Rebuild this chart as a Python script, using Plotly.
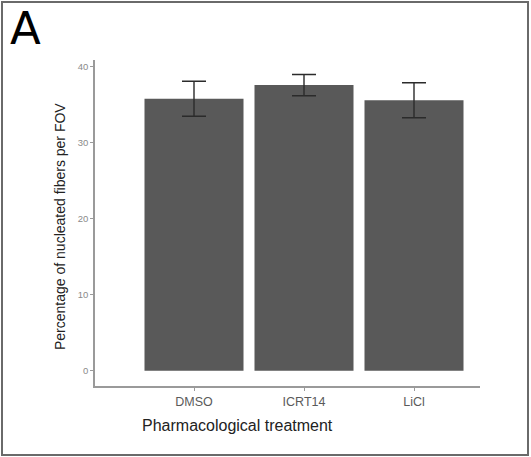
import plotly.graph_objects as go

categories = ["DMSO", "ICRT14", "LiCl"]
means = [35.8, 37.6, 35.6]
errors = [2.3, 1.4, 2.3]
y_ticks = [0, 10, 20, 30, 40]

W, H = 531, 457
L, R, T, B = 95, 480, 60, 386

def px(x):
    return (x - L) / (R - L)

def py(y):
    return (B - y) / (B - T)

fig = go.Figure(go.Bar(
    x=categories, y=means, width=0.9,
    marker=dict(color="#595959", line=dict(width=0)),
    error_y=dict(type="data", array=errors, color="#2b2b2b", thickness=1.4, width=12),
))

fig.update_layout(
    width=W, height=H,
    margin=dict(l=L, r=W - R, t=T, b=H - B, pad=0),
    paper_bgcolor="white", plot_bgcolor="white",
    showlegend=False,
    font=dict(family="Liberation Sans, Arial, sans-serif"),
    xaxis=dict(
        type="category", range=[-0.9, 2.6],
        showline=True, linecolor="#9a9a9a", linewidth=1.5,
        ticks="outside", ticklen=3, tickcolor="#9a9a9a",
        tickfont=dict(size=12.5, color="#5a5a5a"),
        showgrid=False, zeroline=False,
    ),
    yaxis=dict(
        range=[-2, 40.9], tickvals=y_ticks,
        showline=True, linecolor="#9a9a9a", linewidth=1.5,
        ticks="outside", ticklen=3, tickcolor="#9a9a9a",
        tickfont=dict(size=9.5, color="#8a8a8a"),
        showgrid=False, zeroline=False,
    ),
    shapes=[dict(
        type="rect", xref="paper", yref="paper",
        x0=px(2), x1=px(528), y0=py(455), y1=py(2),
        line=dict(color="#6a6a6a", width=2), fillcolor="rgba(0,0,0,0)",
        layer="above",
    )],
    annotations=[
        dict(text="A", xref="paper", yref="paper", x=px(8), y=py(0),
             xanchor="left", yanchor="top", showarrow=False,
             font=dict(size=45, color="black", family="DejaVu Sans")),
        dict(text="Pharmacological treatment", xref="paper", yref="paper",
             x=px(237), y=py(425), xanchor="center", yanchor="middle",
             showarrow=False, font=dict(size=16, color="#222222")),
        dict(text="Percentage of nucleated fibers per FOV", xref="paper", yref="paper",
             x=px(60), y=py(227), xanchor="center", yanchor="middle", textangle=-90,
             showarrow=False, font=dict(size=14, color="#222222")),
    ],
)

fig.write_html(
    "out.html",
    config={"displayModeBar": False},
    post_script="document.body.style.margin='0';document.body.style.overflow='hidden';",
)
